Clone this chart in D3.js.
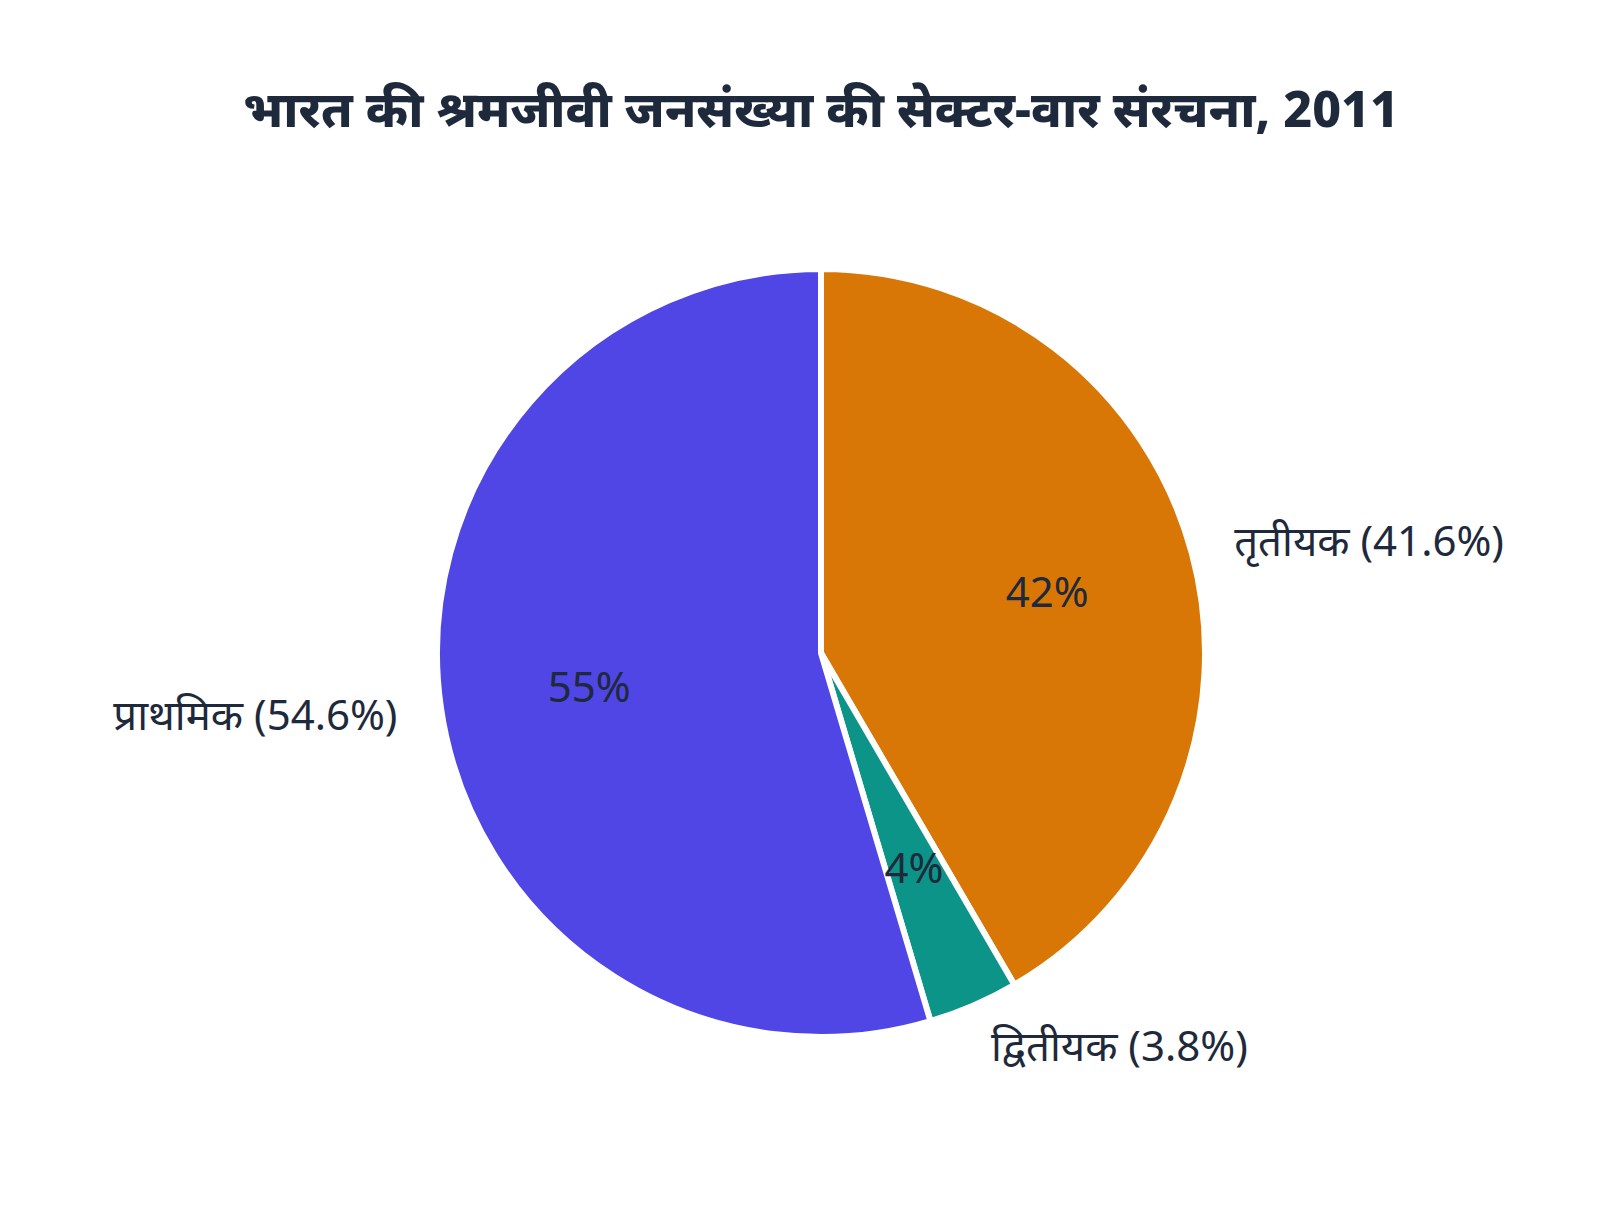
<!DOCTYPE html>
<html>
<head>
<meta charset="utf-8">
<script src="https://cdn.jsdelivr.net/npm/d3@7"></script>
<style>
    body { margin: 0; background: white; }
    text { font-family: "Noto Sans", "Noto Sans Devanagari", sans-serif; }
</style>
</head>
<body>
<div id="chart"></div>
<script>
    const sectors = ['तृतीयक', 'द्वितीयक', 'प्राथमिक'];
    const shares = [41.6, 3.8, 54.6];
    const sectorColors = ['#d97706', '#0d9488', '#4f46e5'];

    const width = 1600;
    const height = 1216;
    const cx = 821, cy = 653, radius = 384;
    const textColor = '#1e293b';

    const svg = d3.select('#chart')
        .append('svg')
        .attr('width', width)
        .attr('height', height)
        .style('background-color', 'white')

    svg.append('text')
        .attr('x', cx)
        .attr('y', 127)
        .attr('text-anchor', 'middle')
        .style('font-size', '50px')
        .style('font-weight', '800')
        .style('fill', textColor)
        .text('भारत की श्रमजीवी जनसंख्या की सेक्टर-वार संरचना, 2011')

    const pie = d3.pie()
        .sort(null)
        .value(d => d.value)

    const data = sectors.map((s, i) => ({ name: s, value: shares[i], color: sectorColors[i] }));
    const arcs = pie(data);

    const arc = d3.arc().innerRadius(0).outerRadius(radius);
    const inner = d3.arc().innerRadius(radius * 0.61).outerRadius(radius * 0.61);
    const outer = d3.arc().innerRadius(radius + 44).outerRadius(radius + 44);

    const g = svg.append('g')
        .attr('transform', `translate(${cx}, ${cy})`)

    g.selectAll('path')
        .data(arcs)
        .join('path')
        .attr('d', arc)
        .attr('fill', d => d.data.color)
        .attr('stroke', 'white')
        .attr('stroke-width', 6)
        .attr('stroke-linejoin', 'miter')

    g.selectAll('text.pct')
        .data(arcs)
        .join('text')
        .attr('class', 'pct')
        .attr('transform', d => `translate(${inner.centroid(d)})`)
        .attr('text-anchor', 'middle')
        .attr('dy', '0.36em')
        .style('font-size', '42px')
        .style('fill', textColor)
        .text(d => Math.round(d.data.value) + '%')

    g.selectAll('text.lbl')
        .data(arcs)
        .join('text')
        .attr('class', 'lbl')
        .attr('transform', d => `translate(${outer.centroid(d)})`)
        .attr('text-anchor', d => (d.startAngle + d.endAngle) / 2 < Math.PI ? 'start' : 'end')
        .attr('dy', '0.36em')
        .style('font-size', '42px')
        .style('fill', textColor)
        .text(d => `${d.data.name} (${d.data.value}%)`)
</script>
</body>
</html>
